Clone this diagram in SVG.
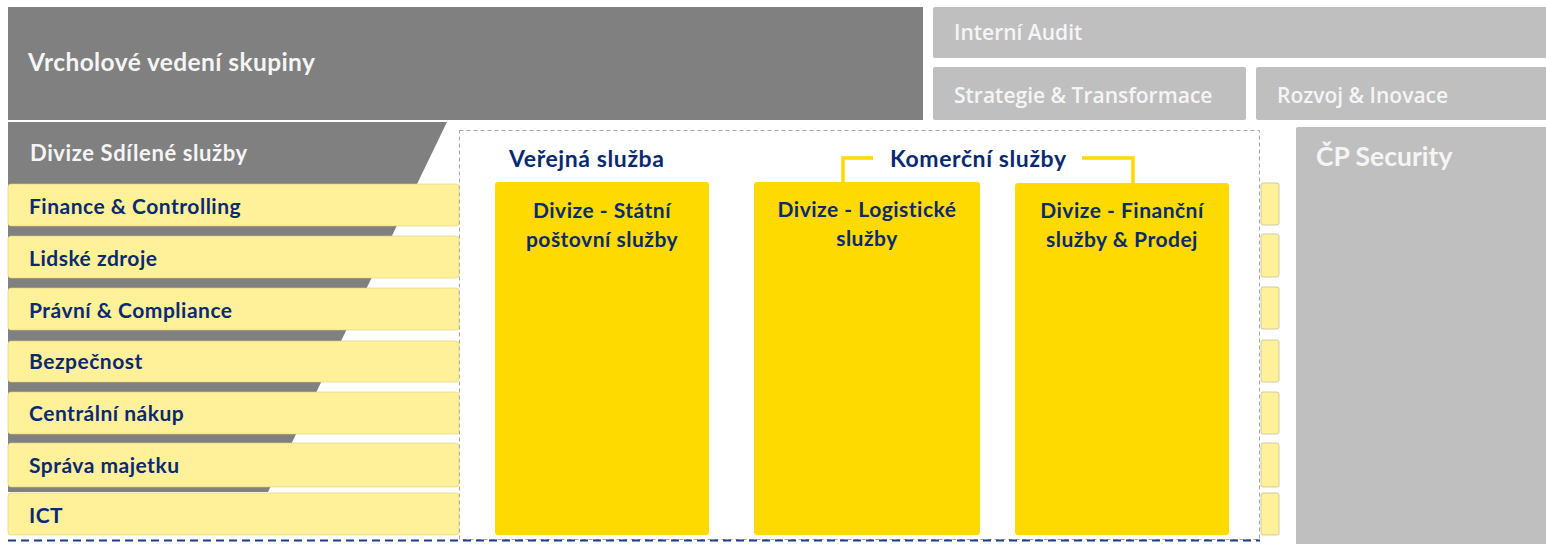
<svg xmlns="http://www.w3.org/2000/svg" width="1546" height="544" viewBox="0 0 1546 544">
<style>
.dg{fill:#808080}
.lg{fill:#BFBFBF}
.band{fill:#FFF09A;stroke:#D9CC80;stroke-width:0.6}
.side{fill:#FFF09A;stroke:#C8C0A0;stroke-width:0.8}
.div{fill:#FFDA00}
.nav{font-family:Lato,"Liberation Sans",sans-serif;font-weight:bold;fill:#0A2A70;font-size:21px;letter-spacing:0.5px}
.big{font-size:23px;letter-spacing:0.6px}
.wt{font-family:Lato,"Liberation Sans",sans-serif;font-weight:bold;fill:#F5F5F5}
.gt{font-family:"Open Sans","Noto Sans",sans-serif;font-weight:600;fill:#F5F5F5;font-size:21px}
.ctr{text-anchor:middle}
</style>
<rect width="1546" height="544" fill="#FFFFFF"/>
<g id="top">
  <rect class="dg" x="8" y="7" width="915" height="113"/>
  <line x1="8" y1="121" x2="465" y2="121" stroke="#FFFFFF" stroke-width="2"/>
  <text class="wt" x="28" y="71" font-size="24.5" letter-spacing="0.4">Vrcholové vedení skupiny</text>
</g>
<g id="audit">
  <rect class="lg" x="933" y="7" width="620" height="51" rx="2"/>
  <text class="gt" x="954" y="40">Interní Audit</text>
</g>
<g id="strategie">
  <rect class="lg" x="933" y="67" width="313" height="53" rx="2"/>
  <text class="gt" x="954" y="103">Strategie &amp; Transformace</text>
</g>
<g id="rozvoj">
  <rect class="lg" x="1256" y="67" width="297" height="53" rx="2"/>
  <text class="gt" x="1277" y="103">Rozvoj &amp; Inovace</text>
</g>
<g id="security">
  <rect class="lg" x="1296" y="127" width="257" height="425" rx="2"/>
  <text class="wt" x="1316" y="166" font-size="26.5">ČP Security</text>
</g>
<g id="sdilene">
  <polygon class="dg" points="8,122 447,122 268,492 8,492"/>
  <text class="wt" x="30" y="161" font-size="22" letter-spacing="0.6">Divize Sdílené služby</text>
</g>
<g id="box">
  <rect x="459.5" y="130.5" width="800" height="409" fill="none" stroke="#A6A6A6" stroke-width="1" stroke-dasharray="4,3"/>
  <line x1="8" y1="540.5" x2="1260" y2="540.5" stroke="#1F3C88" stroke-width="2" stroke-dasharray="8,5"/>
</g>
<g id="finance"><rect class="band" x="8" y="184" width="451" height="42" rx="3"/><text class="nav" x="29" y="214">Finance &amp; Controlling</text></g>
<g id="lidske"><rect class="band" x="8" y="236" width="451" height="42" rx="3"/><text class="nav" x="29" y="266">Lidské zdroje</text></g>
<g id="pravni"><rect class="band" x="8" y="288" width="451" height="42" rx="3"/><text class="nav" x="29" y="318">Právní &amp; Compliance</text></g>
<g id="bezpecnost"><rect class="band" x="8" y="341" width="451" height="41" rx="3"/><text class="nav" x="29" y="369">Bezpečnost</text></g>
<g id="nakup"><rect class="band" x="8" y="392" width="451" height="42" rx="3"/><text class="nav" x="29" y="421">Centrální nákup</text></g>
<g id="majetek"><rect class="band" x="8" y="443" width="451" height="44" rx="3"/><text class="nav" x="29" y="473">Správa majetku</text></g>
<g id="ict"><rect class="band" x="8" y="493" width="451" height="42" rx="3"/><text class="nav" x="29" y="523">ICT</text></g>
<g id="side-tabs">
  <rect class="side" x="1261" y="183" width="18" height="42" rx="2"/>
  <rect class="side" x="1261" y="234" width="18" height="43" rx="2"/>
  <rect class="side" x="1261" y="287" width="18" height="42" rx="2"/>
  <rect class="side" x="1261" y="340" width="18" height="42" rx="2"/>
  <rect class="side" x="1261" y="392" width="18" height="42" rx="2"/>
  <rect class="side" x="1261" y="443" width="18" height="44" rx="2"/>
  <rect class="side" x="1261" y="493" width="18" height="42" rx="2"/>
</g>
<g id="verejna-label"><text class="nav big" x="509" y="167">Veřejná služba</text></g>
<g id="komercni-label"><text class="nav big" x="890" y="167">Komerční služby</text></g>
<g id="connectors">
  <polyline points="843,183 843,158 873,158" fill="none" stroke="#FFDA00" stroke-width="3.5"/>
  <polyline points="1082,158 1133,158 1133,184" fill="none" stroke="#FFDA00" stroke-width="3.5"/>
</g>
<g id="statni">
  <rect class="div" x="495" y="182" width="214" height="353" rx="3"/>
  <text class="nav ctr" x="602" y="218">Divize - Státní</text>
  <text class="nav ctr" x="602" y="247">poštovní služby</text>
</g>
<g id="logisticke">
  <rect class="div" x="754" y="182" width="226" height="353" rx="3"/>
  <text class="nav ctr" x="867" y="217">Divize - Logistické</text>
  <text class="nav ctr" x="867" y="246">služby</text>
</g>
<g id="financni">
  <rect class="div" x="1015" y="183" width="214" height="352" rx="3"/>
  <text class="nav ctr" x="1122" y="218">Divize - Finanční</text>
  <text class="nav ctr" x="1122" y="247">služby &amp; Prodej</text>
</g>
</svg>
